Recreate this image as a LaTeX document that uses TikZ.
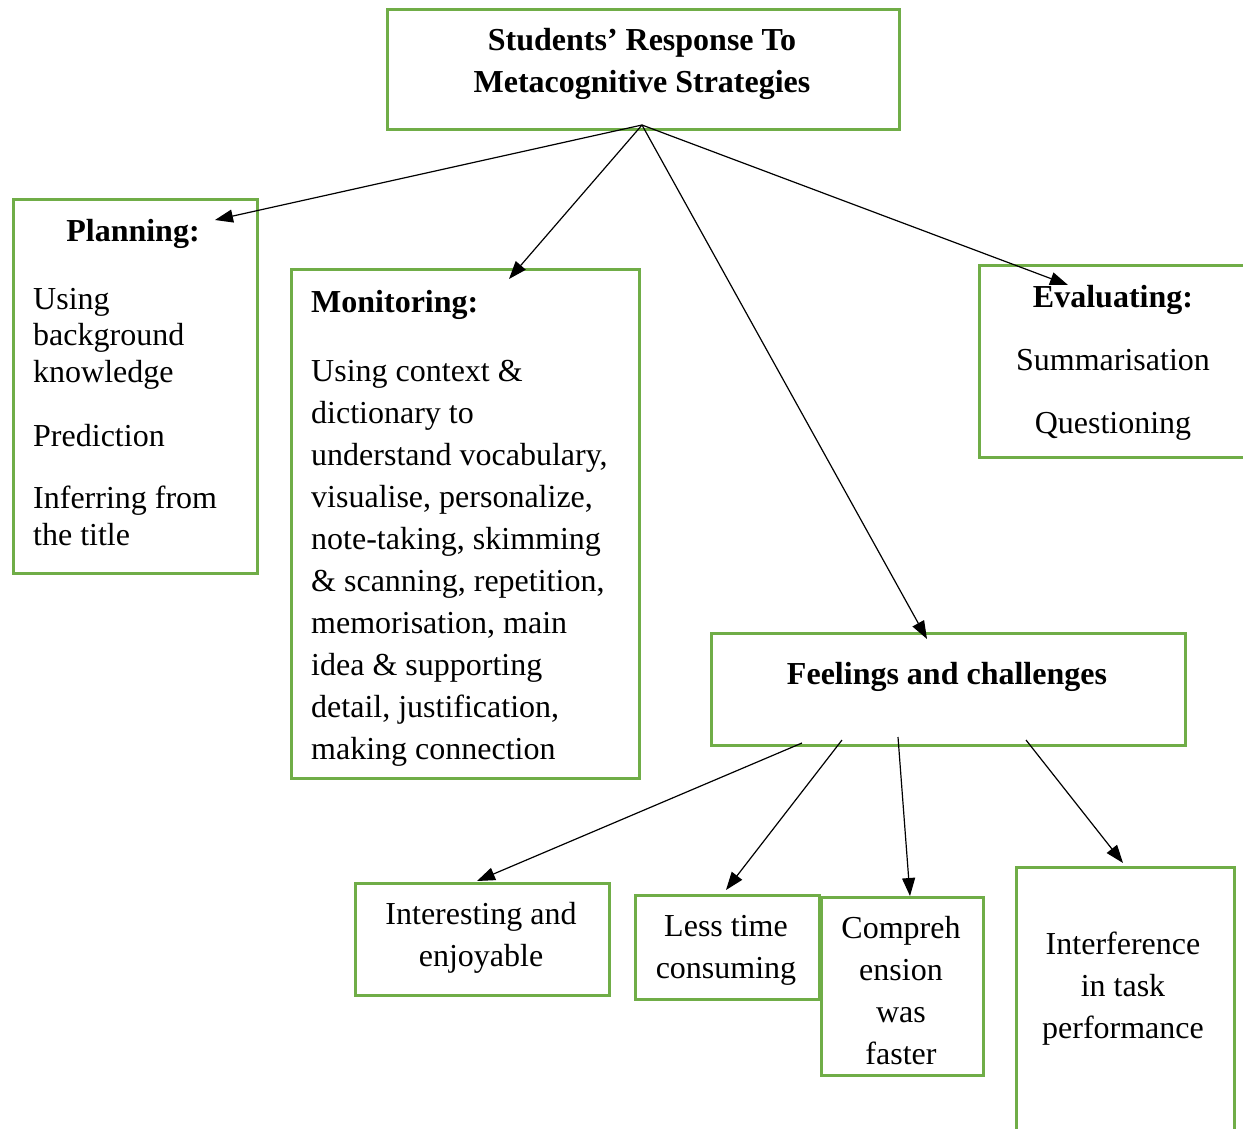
\documentclass[tikz,border=0pt]{standalone}
\usepackage{fontspec}
\setmainfont{Liberation Serif}
\usetikzlibrary{arrows.meta}
\definecolor{boxgreen}{HTML}{70AD47}
\begin{document}
\begin{tikzpicture}[x=1pt,y=-1pt,
  box/.style={draw=boxgreen,line width=3pt,anchor=north west,inner sep=0pt},
  txt/.style={inner sep=0pt,font=\fontsize{32}{42}\selectfont},
  btxt/.style={inner sep=0pt,font=\fontsize{32}{42}\selectfont\bfseries},
  arr/.style={-{Triangle[length=18pt,width=13pt]},line width=1.2pt}]
\useasboundingbox (0,0) rectangle (1243,1128);
\clip (0,0) rectangle (1243,1128);
% boxes
\node[box,minimum width=512pt,minimum height=120pt] (top) at (386,8) {};
\node[box,minimum width=244pt,minimum height=374pt] (plan) at (12,198) {};
\node[box,minimum width=348pt,minimum height=509pt] (moni) at (290,268) {};
\node[box,minimum width=300pt,minimum height=192pt] (eval) at (978,264) {};
\node[box,minimum width=474pt,minimum height=112pt] (feel) at (710,632) {};
\node[box,minimum width=254pt,minimum height=112pt] (inte) at (354,882) {};
\node[box,minimum width=184pt,minimum height=104pt] (less) at (634,894) {};
\node[box,minimum width=162pt,minimum height=178pt] (comp) at (820,896) {};
\node[box,minimum width=218pt,minimum height=300pt] (intf) at (1015,866) {};
% texts (anchor base = baseline of the last line)
\node[btxt,anchor=base,align=center] (toptxt) at (642,92) {Students’ Response To\\Metacognitive Strategies};
\node[btxt,anchor=base] (planh) at (133,241) {Planning:};
\node[inner sep=0pt,font=\fontsize{32}{36.5}\selectfont,anchor=base west,align=left] (plant) at (33,545)
  {Using\\background\\knowledge\\[27.5pt]Prediction\\[26pt]Inferring from\\the title};
\node[txt,anchor=base west,align=left] (monit) at (311,759)
  {\textbf{Monitoring:}\\[27pt]Using context \&\\dictionary to\\understand vocabulary,\\visualise, personalize,\\note-taking, skimming\\\& scanning, repetition,\\memorisation, main\\idea \& supporting\\detail, justification,\\making connection};
\node[txt,anchor=base,align=center] (evalt) at (1113,433)
  {\textbf{Evaluating:}\\[21pt]Summarisation\\[21pt]Questioning};
\node[btxt,anchor=base] (feelt) at (947,684) {Feelings and challenges};
\node[txt,anchor=base,align=center] (intet) at (481,966) {Interesting and\\enjoyable};
\node[txt,anchor=base,align=center] (lesst) at (726,978) {Less time\\consuming};
\node[txt,anchor=base,align=center] (compt) at (901,1064) {Compreh\\ension\\was\\faster};
\node[txt,anchor=base,align=center] (intft) at (1123,1038) {Interference\\in task\\performance};
% connector ends
\coordinate (topS) at (642,125);
\coordinate (planT) at (215,220);
\coordinate (moniT) at (509,279);
\coordinate (feelT) at (927,639);
\coordinate (evalT) at (1068,285);
\coordinate (f1) at (802,743);
\coordinate (f2) at (842,740);
\coordinate (f3) at (898,737);
\coordinate (f4) at (1026,740);
\coordinate (inteT) at (477,881);
\coordinate (lessT) at (726,890);
\coordinate (compT) at (910,896);
\coordinate (intfT) at (1123,863);
% connectors
\draw[arr] (topS) -- (planT);
\draw[arr] (topS) -- (moniT);
\draw[arr] (topS) -- (feelT);
\draw[arr] (topS) -- (evalT);
\draw[arr] (f1) -- (inteT);
\draw[arr] (f2) -- (lessT);
\draw[arr] (f3) -- (compT);
\draw[arr] (f4) -- (intfT);
\end{tikzpicture}
\end{document}
